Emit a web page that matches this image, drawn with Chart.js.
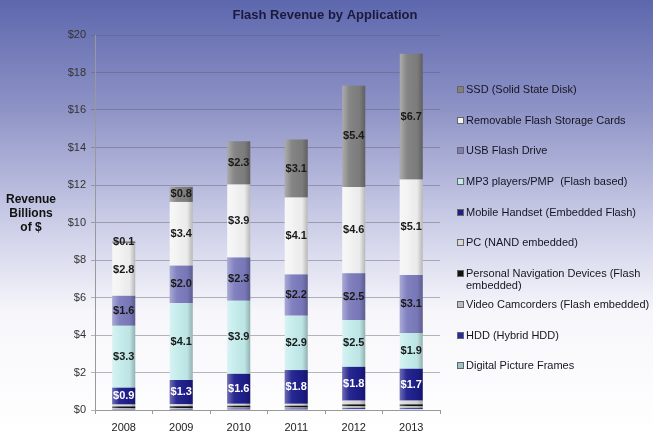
<!DOCTYPE html>
<html>
<head>
<meta charset="utf-8">
<script src="https://cdn.jsdelivr.net/npm/chart.js@4/dist/chart.umd.min.js"></script>
<style>
html, body { margin:0; padding:0; }
body { width:653px; height:436px; overflow:hidden; font-family:"Liberation Sans", Arial, sans-serif; }
#wrap { position:relative; width:653px; height:436px; }
#legend { position:absolute; left:457px; top:83px; width:200px; }
.item { position:relative; height:30.7px; font-size:11px; line-height:12px; color:#151520; padding-left:9px; }
.item i { position:absolute; left:0; top:3px; width:5px; height:5px; border:1px solid #666; }
</style>
</head>
<body>
<div id="wrap">
    <canvas id="chart" width="653" height="436"></canvas>
    <div id="legend"></div>
</div>
<script>
// datos del grafico
const years = ['2008', '2009', '2010', '2011', '2012', '2013'];
const yTicks = [0, 2, 4, 6, 8, 10, 12, 14, 16, 18, 20];

const dpf       = [0.02, 0.02, 0.03, 0.03, 0.05, 0.05];
const hdd       = [0.02, 0.03, 0.05, 0.05, 0.05, 0.05];
const camcorder = [0.05, 0.05, 0.05, 0.05, 0.1, 0.1];
const pnd       = [0.1, 0.1, 0.1, 0.1, 0.1, 0.1];
const pc        = [0.1, 0.1, 0.1, 0.1, 0.2, 0.2];
const mobile    = [0.9, 1.3, 1.6, 1.8, 1.8, 1.7];
const mp3       = [3.3, 4.1, 3.9, 2.9, 2.5, 1.9];
const usb       = [1.6, 2.0, 2.3, 2.2, 2.5, 3.1];
const removable = [2.8, 3.4, 3.9, 4.1, 4.6, 5.1];
const ssd       = [0.1, 0.8, 2.3, 3.1, 5.4, 6.7];

// de abajo hacia arriba
let series = [
    {label:'Digital Picture Frames', data:dpf, color:'#9cc4c4'},
    {label:'HDD (Hybrid HDD)', data:hdd, color:'#2a2aa0'},
    {label:'Video Camcorders (Flash embedded)', data:camcorder, color:'#bdbdbd'},
    {label:'Personal Navigation Devices (Flash embedded)', data:pnd, color:'#111111'},
    {label:'PC (NAND embedded)', data:pc, color:'#d8d8d8'},
    {label:'Mobile Handset (Embedded Flash)', data:mobile, color:'#1e1e8c', tag:'#ffffff'},
    {label:'MP3 players/PMP  (Flash based)', data:mp3, color:'#c4ecec', tag:'#1a1a1a'},
    {label:'USB Flash Drive', data:usb, color:'#7c7cbe', tag:'#1a1a1a'},
    {label:'Removable Flash Storage Cards', data:removable, color:'#f3f3f3', tag:'#1a1a1a'},
    {label:'SSD (Solid State Disk)', data:ssd, color:'#808080', tag:'#1a1a1a'}
];

let fondo = {
    id:'fondo',
    beforeDraw: (chart) => {
        const c = chart.ctx;
        let g = c.createLinearGradient(0, 0, 0, chart.height);
        g.addColorStop(0, '#5d67ad');
        g.addColorStop(0.25, '#8e93c6');
        g.addColorStop(0.5, '#c9cbe6');
        g.addColorStop(0.72, '#f7f7fb');
        g.addColorStop(1, '#ffffff');
        c.save();
        c.fillStyle = g;
        c.fillRect(0, 0, chart.width, chart.height);
        c.restore();
    }
};

let textos = {
    id:'textos',
    afterDatasetsDraw: (chart) => {
        const c = chart.ctx;
        c.save();
        // brillo de las barras
        chart.data.datasets.forEach((ds, i) => {
            chart.getDatasetMeta(i).data.forEach((bar) => {
                const w = bar.width, x0 = bar.x - w / 2;
                const h = Math.abs(bar.base - bar.y);
                if (h < 0.5) return;
                let g = c.createLinearGradient(x0, 0, x0 + w, 0);
                g.addColorStop(0, 'rgba(255,255,255,0.35)');
                g.addColorStop(0.3, 'rgba(255,255,255,0.05)');
                g.addColorStop(0.75, 'rgba(0,0,0,0.03)');
                g.addColorStop(1, 'rgba(0,0,0,0.25)');
                c.fillStyle = g;
                c.fillRect(x0, Math.min(bar.y, bar.base), w, h);
            });
        });
        c.font = 'bold 11px "Liberation Sans", Arial, sans-serif';
        c.textAlign = 'center';
        c.textBaseline = 'middle';
        chart.data.datasets.forEach((ds, i) => {
            if (!ds.tag) return;
            chart.getDatasetMeta(i).data.forEach((bar, j) => {
                c.fillStyle = ds.tag;
                c.fillText('$' + ds.data[j].toFixed(1), bar.x, (bar.y + bar.base) / 2);
            });
        });
        c.fillStyle = '#1a1a3c';
        c.font = 'bold 13px "Liberation Sans", Arial, sans-serif';
        c.fillText('Flash Revenue by Application', 325, 15);
        c.fillStyle = '#111';
        c.font = 'bold 12px "Liberation Sans", Arial, sans-serif';
        ['Revenue', 'Billions', 'of $'].forEach((t, k) => c.fillText(t, 31, 200 + k * 14));
        c.restore();
    }
};

let grafico = new Chart('chart', {
    type:'bar',
    data:{
        labels:years,
        datasets:series.map(s => ({
            label:s.label, data:s.data, backgroundColor:s.color, tag:s.tag,
            borderColor:'rgba(60,60,60,0.35)', borderWidth:0,
            categoryPercentage:1, barPercentage:0.4
        }))
    },
    options:{
        responsive:false,
        animation:false,
        layout:{padding:{left:40, top:35, right:213, bottom:0}},
        plugins:{legend:{display:false}, title:{display:false}, tooltip:{enabled:false}},
        scales:{
            x:{
                stacked:true,
                grid:{drawOnChartArea:false, tickLength:4, color:'#999'},
                border:{color:'#999'},
                ticks:{color:'#222', padding:7, font:{size:11, family:'"Liberation Sans", Arial'}},
                afterFit: s => { s.height = 26; }
            },
            y:{
                stacked:true, min:0, max:20,
                afterBuildTicks: s => { s.ticks = yTicks.map(v => ({value:v})); },
                grid:{color:'rgba(95,95,115,0.45)', tickLength:4},
                border:{color:'#999'},
                ticks:{color:'#333', padding:5, font:{size:11, family:'"Liberation Sans", Arial'}, callback: v => '$' + v},
                afterFit: s => { s.width = 55; }
            }
        }
    },
    plugins:[fondo, textos]
});

// leyenda html (orden inverso)
let legend = document.getElementById('legend');
series.slice().reverse().forEach(s => {
    let item = "<div class='item'><i style='background:" + s.color + "'></i>" + s.label.replace(/  /g, '&nbsp; ') + "</div>";
    legend.insertAdjacentHTML('beforeend', item);
});
</script>
</body>
</html>
